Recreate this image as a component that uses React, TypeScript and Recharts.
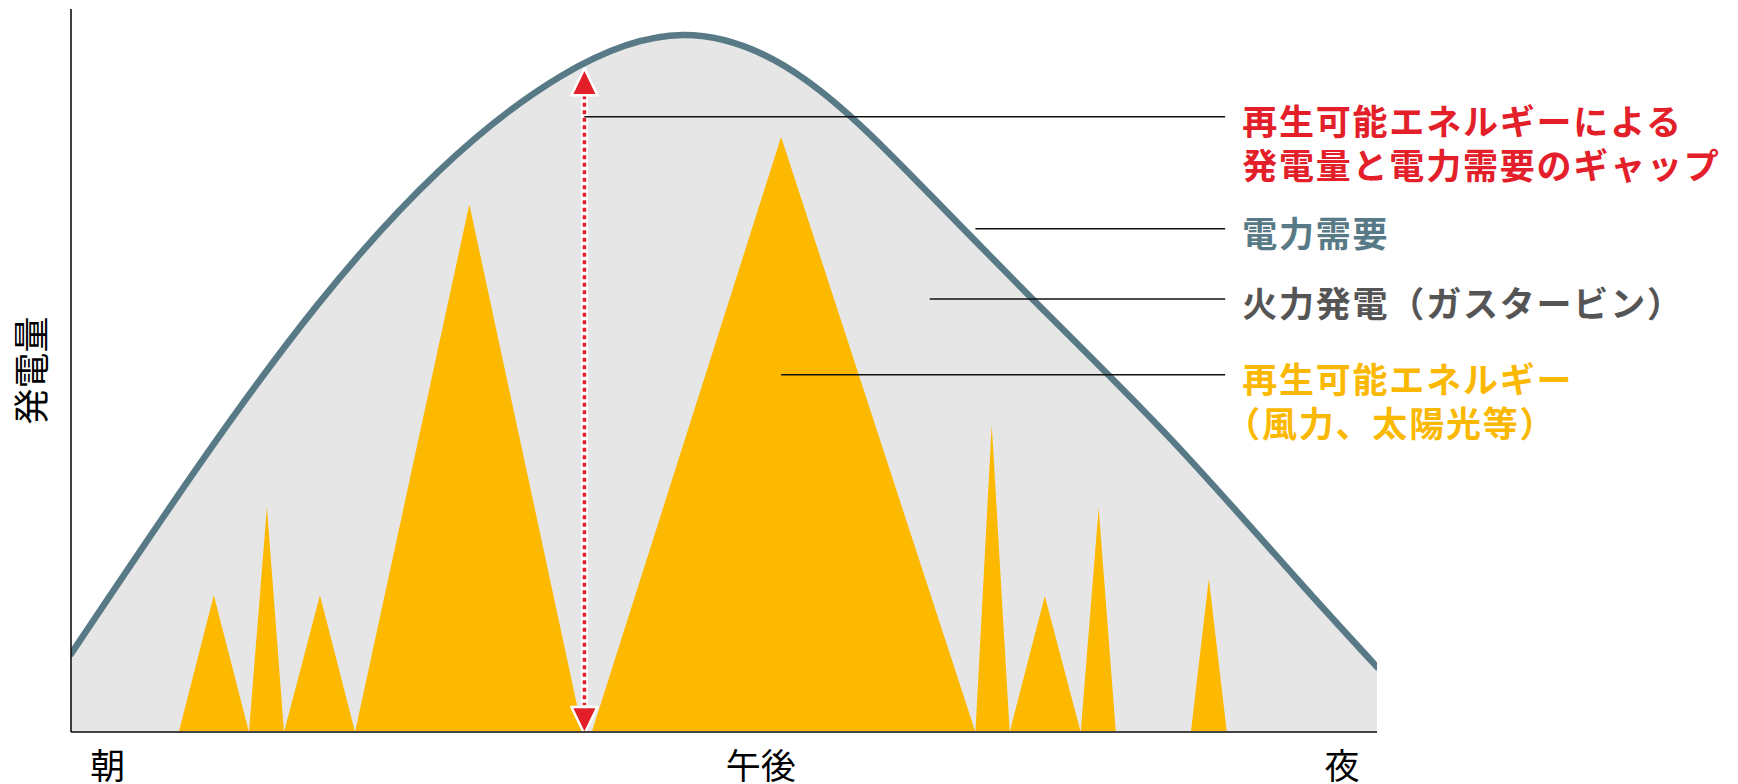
import React from 'react';
import { ComposedChart, Area, Line, XAxis, YAxis, ReferenceLine } from 'recharts';

// hours from morning (6) to night (22), values as % of full scale
const DEMAND_HOURS = [6, 7.5, 9, 10.5, 12, 13.5, 15, 16.5, 18, 19.5, 21, 22];
const DEMAND_VALUES = [10.8, 35.8, 58.8, 77.5, 90.7, 96.4, 90.2, 74.6, 57.4, 40.2, 21.4, 9.0];

const RENEW_HOURS = [6, 7.32, 7.75, 8.18, 8.4, 8.61, 9.05, 9.48, 10.88, 12.27, 12.38, 14.7, 17.08, 17.28, 17.5, 17.93, 18.37, 18.59, 18.8, 19.72, 19.94, 20.16, 22];
const RENEW_VALUES = [0, 0, 18.9, 0, 31.1, 0, 18.9, 0, 73.0, 0, 0, 82.3, 0, 42.5, 0, 18.8, 0, 31.0, 0, 0, 21.2, 0, 0];

const TIME_TICKS = [6.45, 14.45, 21.57];
const TIME_LABELS = ['朝', '午後', '夜'];

const GAP_HOUR = 12.29;
const GAP_TOP = 91.8;

const CALLOUT_TEXT = [
  ['再生可能エネルギーによる', '発電量と電力需要のギャップ'],
  ['電力需要'],
  ['火力発電（ガスタービン）'],
  ['再生可能エネルギー', '（風力、太陽光等）'],
];
const CALLOUT_FROM = [12.29, 17.08, 16.52, 14.7];
const CALLOUT_LEVEL = [85.1, 69.6, 59.9, 49.4];
const CALLOUT_TO = 20.14;

const CALLOUT_COLORS = ['#e3202a', '#587a87', '#555555', '#fbb800'];
const FONT = "'Noto Sans CJK JP', 'Noto Sans', sans-serif";

const demandData = DEMAND_HOURS.map((hour, i) => ({ hour, demand: DEMAND_VALUES[i] }));
const renewData = RENEW_HOURS.map((hour, i) => ({ hour, renew: RENEW_VALUES[i] }));

function GapArrow(props: any) {
  const { x1, y1, y2 } = props;
  const top = Math.min(y1, y2);
  const bottom = Math.max(y1, y2);
  const head = 27;
  const half = 13;
  return (
    <g>
      <line x1={x1} x2={x1} y1={top + head} y2={bottom - head} stroke="#fff" strokeWidth={7} />
      <line x1={x1} x2={x1} y1={top + head} y2={bottom - head} stroke="#e3202a" strokeWidth={3.5} strokeDasharray="4 3.5" />
      <polygon
        points={`${x1},${top} ${x1 - half},${top + head} ${x1 + half},${top + head}`}
        fill="#e3202a" stroke="#fff" strokeWidth={2.5} strokeLinejoin="round"
      />
      <polygon
        points={`${x1},${bottom + 2} ${x1 - half},${bottom + 2 - head} ${x1 + half},${bottom + 2 - head}`}
        fill="#e3202a" stroke="#fff" strokeWidth={2.5} strokeLinejoin="round"
      />
    </g>
  );
}

function makeCallout(i: number) {
  return (props: any) => {
    const { x1, x2, y1 } = props;
    const lines = CALLOUT_TEXT[i];
    const textX = Math.max(x1, x2) + 17;
    return (
      <g>
        <line x1={x1} x2={x2} y1={y1} y2={y1} stroke="#111" strokeWidth={1.5} />
        {lines.map((t, k) => (
          <text
            key={k}
            x={textX}
            y={y1 + 3 + k * 44}
            dx={t.startsWith('（') ? -17 : 0}
            fill={CALLOUT_COLORS[i]}
            fontFamily={FONT}
            fontWeight={700}
            fontSize={35}
            letterSpacing={1.8}
            dominantBaseline="central"
          >
            {t}
          </text>
        ))}
      </g>
    );
  };
}

function TimeTick(props: any) {
  const { x, y, index } = props;
  return (
    <text x={x} y={y + 31} textAnchor="middle" dominantBaseline="central" fontFamily={FONT} fontSize={35} fill="#000">
      {TIME_LABELS[index]}
    </text>
  );
}

function YLabel(props: any) {
  const vb = props.viewBox || { x: 0, y: 0, width: 0, height: 0 };
  const cx = vb.x + vb.width / 2 - 7;
  const cy = vb.y + vb.height / 2;
  return (
    <text
      x={cx} y={cy} transform={`rotate(-90 ${cx} ${cy})`}
      textAnchor="middle" dominantBaseline="central" fontFamily={FONT} fontSize={36} fill="#000"
    >
      発電量
    </text>
  );
}

export default function App() {
  return (
    <div style={{ width: 1738, height: 784, background: '#fff' }}>
      <style>{'body{margin:0}'}</style>
      <ComposedChart width={1738} height={784} margin={{ top: 9, right: 361, bottom: 0, left: 0 }}>
        <XAxis
          type="number"
          dataKey="hour"
          domain={[6, 22]}
          ticks={TIME_TICKS}
          allowDataOverflow
          height={52}
          tickLine={false}
          tickSize={0}
          tickMargin={0}
          axisLine={{ stroke: '#444', strokeWidth: 2 }}
          tick={<TimeTick />}
        />
        <YAxis
          type="number"
          domain={[0, 100]}
          width={71}
          tick={false}
          tickLine={false}
          axisLine={{ stroke: '#000', strokeWidth: 1.5 }}
          label={{ content: <YLabel /> } as any}
        />
        <Area
          data={demandData}
          dataKey="demand"
          type="natural"
          fill="#e6e6e6"
          fillOpacity={1}
          stroke="none"
          isAnimationActive={false}
        />
        <Area
          data={renewData}
          dataKey="renew"
          type="linear"
          fill="#fdb900"
          fillOpacity={1}
          stroke="none"
          isAnimationActive={false}
        />
        <Line
          data={demandData}
          dataKey="demand"
          type="natural"
          stroke="#587a87"
          strokeWidth={6.5}
          strokeLinecap="round"
          dot={false}
          activeDot={false}
          isAnimationActive={false}
        />
        <ReferenceLine
          segment={[{ x: GAP_HOUR, y: 0 }, { x: GAP_HOUR, y: GAP_TOP }]}
          ifOverflow="visible"
          shape={GapArrow}
        />
        {CALLOUT_TEXT.map((_, i) => (
          <ReferenceLine
            key={i}
            segment={[{ x: CALLOUT_FROM[i], y: CALLOUT_LEVEL[i] }, { x: CALLOUT_TO, y: CALLOUT_LEVEL[i] }]}
            ifOverflow="visible"
            shape={makeCallout(i)}
          />
        ))}
      </ComposedChart>
    </div>
  );
}
